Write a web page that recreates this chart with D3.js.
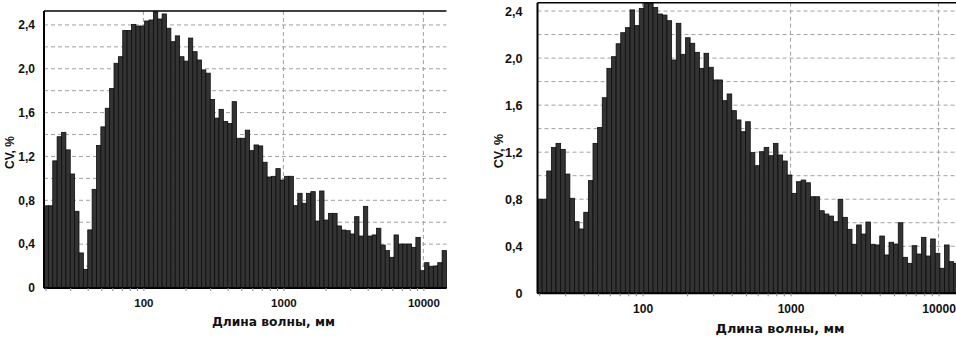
<!DOCTYPE html>
<html>
<head>
<meta charset="utf-8">
<script src="https://cdn.jsdelivr.net/npm/d3@7"></script>
<style>
  body { margin: 0; background: #fff; }
  svg { display: block; overflow: hidden; }
</style>
</head>
<body>
<div id="chart"></div>
<script>
// BINS: equal width on log axis, 32 per decade, first bin starts near 19.5 mm
const binStart = 19.5;
const binsPerDecade = 32;
const binCount = 92;

// CV VALUES (%)
const leftValues = [
  0.75, 0.75, 1.16, 1.38, 1.42, 1.26, 1.04, 0.70, 0.32, 0.17,
  0.53, 0.90, 1.30, 1.47, 1.64, 1.82, 2.05, 2.11, 2.35, 2.35,
  2.405, 2.39, 2.39, 2.436, 2.445, 2.52, 2.454, 2.50, 2.37, 2.247,
  2.30, 2.11, 2.07, 2.28, 2.156, 2.08, 1.99, 1.96, 1.72, 1.55,
  1.63, 1.52, 1.50, 1.70, 1.366, 1.366, 1.44, 1.253, 1.305, 1.296,
  1.147, 1.013, 1.019, 1.089, 0.985, 1.019, 1.019, 0.751, 0.864, 0.773,
  0.864, 0.879, 0.611, 0.885, 0.620, 0.681, 0.681, 0.566, 0.529, 0.523,
  0.493, 0.651, 0.474, 0.745, 0.474, 0.484, 0.545, 0.392, 0.341, 0.280,
  0.484, 0.401, 0.401, 0.401, 0.371, 0.462, 0.158, 0.231, 0.195, 0.201,
  0.231, 0.341
];
const rightValues = [
  0.80, 0.80, 1.04, 1.24, 1.275, 1.224, 1.014, 0.808, 0.609, 0.547,
  0.689, 0.958, 1.275, 1.41, 1.663, 1.913, 2.012, 2.122, 2.216, 2.259,
  2.41, 2.276, 2.423, 2.466, 2.466, 2.43, 2.375, 2.366, 2.318, 1.984,
  2.296, 2.032, 2.173, 2.126, 2.049, 1.913, 2.041, 1.922, 1.814, 1.814,
  1.638, 1.695, 1.553, 1.474, 1.374, 1.459, 1.196, 1.085, 1.204, 1.241,
  1.170, 1.275, 1.176, 1.125, 1.006, 0.850, 0.949, 0.963, 0.940, 0.821,
  0.821, 0.702, 0.674, 0.657, 0.609, 0.799, 0.646, 0.544, 0.417, 0.581,
  0.504, 0.606, 0.417, 0.411, 0.487, 0.326, 0.434, 0.419, 0.600, 0.306,
  0.255, 0.405, 0.334, 0.476, 0.317, 0.462, 0.340, 0.213, 0.411, 0.269,
  0.255
];

// TICKS AND LABELS
const yTickValues = [0, 0.4, 0.8, 1.2, 1.6, 2.0, 2.4];
const yTickLabels = ["0", "0,4", "0,8", "1,2", "1,6", "2,0", "2,4"];
const yGridValues = [0.2, 0.4, 0.6, 0.8, 1.0, 1.2, 1.4, 1.6, 1.8, 2.0, 2.2, 2.4];
const xTickValues = [100, 1000, 10000];
const xTickLabels = ["100", "1000", "10000"];
const xMinorTicks = [20, 30, 40, 50, 60, 70, 80, 90, 200, 300, 400, 500, 600, 700, 800, 900,
  2000, 3000, 4000, 5000, 6000, 7000, 8000, 9000];
const xLabel = "Длина волны, мм";
const yLabel = "CV, %";

const width = 956;
const height = 338;

const svg = d3.select("#chart")
    .append("svg")
    .attr("width", width)
    .attr("height", height);

// ONE PANEL: p holds the plot box and a scale factor k for fonts
function drawPanel(values, p) {
    const k = p.k;
    const binEnd = binStart * Math.pow(10, binCount / binsPerDecade);
    const x = d3.scaleLog().domain([binStart, binEnd]).range([0, p.w]);
    const y = d3.scaleLinear().domain([0, p.yMax]).range([p.h, 0]);

    const g = svg.append("g")
        .attr("transform", "translate(" + p.left + "," + p.top + ")");

    // dashed grid behind bars
    g.selectAll(".hgrid")
        .data(yGridValues)
        .enter().append("line")
        .attr("class", "hgrid")
        .attr("x1", 0).attr("x2", p.w)
        .attr("y1", d => y(d)).attr("y2", d => y(d))
        .attr("stroke", "#a0a0a0")
        .attr("stroke-width", 1)
        .attr("stroke-dasharray", "4,3");

    g.selectAll(".vgrid")
        .data(xTickValues)
        .enter().append("line")
        .attr("class", "vgrid")
        .attr("x1", d => x(d)).attr("x2", d => x(d))
        .attr("y1", 0).attr("y2", p.h)
        .attr("stroke", "#a0a0a0")
        .attr("stroke-width", 1)
        .attr("stroke-dasharray", "4,3");

    // bars
    g.selectAll(".bar")
        .data(values)
        .enter().append("rect")
        .attr("class", "bar")
        .attr("x", (d, i) => x(binStart * Math.pow(10, i / binsPerDecade)))
        .attr("width", (d, i) => x(binStart * Math.pow(10, (i + 1) / binsPerDecade)) - x(binStart * Math.pow(10, i / binsPerDecade)))
        .attr("y", d => y(d))
        .attr("height", d => p.h - y(d))
        .attr("fill", "#333")
        .attr("stroke", "#0d0d0d")
        .attr("stroke-width", 0.8);

    // frame: top, left, bottom
    g.append("line")
        .attr("x1", 0).attr("x2", p.w).attr("y1", 0).attr("y2", 0)
        .attr("stroke", "#000").attr("stroke-width", 1.5);
    g.append("line")
        .attr("x1", 0).attr("x2", 0).attr("y1", 0).attr("y2", p.h)
        .attr("stroke", "#000").attr("stroke-width", 2);
    g.append("line")
        .attr("x1", 0).attr("x2", p.w).attr("y1", p.h).attr("y2", p.h)
        .attr("stroke", "#000").attr("stroke-width", 2);

    // minor ticks under axis
    const minorAxis = g.append("g")
        .attr("transform", "translate(0," + p.h + ")")
        .call(d3.axisBottom(x).tickValues(xMinorTicks.concat(xTickValues)).tickSize(3).tickFormat(""));
    minorAxis.select(".domain").remove();
    minorAxis.selectAll("line").attr("stroke", "#888");

    // x tick labels
    const xAxis = g.append("g")
        .attr("transform", "translate(0," + p.h + ")")
        .call(d3.axisBottom(x)
            .tickValues(xTickValues)
            .tickSize(0)
            .tickPadding(11 * k)
            .tickFormat((d, i) => xTickLabels[i]));
    xAxis.select(".domain").remove();
    xAxis.selectAll("text")
        .attr("fill", "#111")
        .style("font-family", "'Liberation Sans', Arial, sans-serif")
        .style("font-weight", "bold")
        .style("font-size", (11.5 * k) + "px");

    // y tick labels
    const yAxis = g.append("g")
        .call(d3.axisLeft(y)
            .tickValues(yTickValues)
            .tickSize(0)
            .tickPadding(p.yPad)
            .tickFormat((d, i) => yTickLabels[i]));
    yAxis.select(".domain").remove();
    yAxis.selectAll("text")
        .attr("fill", "#111")
        .style("font-family", "'Liberation Sans', Arial, sans-serif")
        .style("font-weight", "bold")
        .style("font-size", (12 * k) + "px");

    // axis titles
    g.append("text")
        .attr("x", p.w * 0.57)
        .attr("y", p.h + 38 * k)
        .attr("text-anchor", "middle")
        .attr("fill", "#111")
        .style("font-family", "'DejaVu Sans', Verdana, sans-serif")
        .style("font-weight", "bold")
        .style("font-size", (12.5 * k) + "px")
        .attr("textLength", 123 * k)
        .attr("lengthAdjust", "spacingAndGlyphs")
        .text(xLabel);

    g.append("text")
        .attr("transform", "translate(" + (-p.titleGap) + "," + (p.h / 2 + 3) + ") rotate(-90)")
        .attr("text-anchor", "middle")
        .attr("dominant-baseline", "central")
        .attr("fill", "#111")
        .style("font-family", "'Liberation Sans', Arial, sans-serif")
        .style("font-weight", "bold")
        .style("font-size", (12 * k) + "px")
        .text(yLabel);
}

drawPanel(leftValues, { left: 44, top: 11, w: 402.5, h: 277, yMax: 2.527, k: 1, yPad: 9, titleGap: 34 });
drawPanel(rightValues, { left: 537.5, top: 2.7, w: 425.5, h: 290.6, yMax: 2.471, k: 1.05, yPad: 15, titleGap: 39 });
</script>
</body>
</html>
